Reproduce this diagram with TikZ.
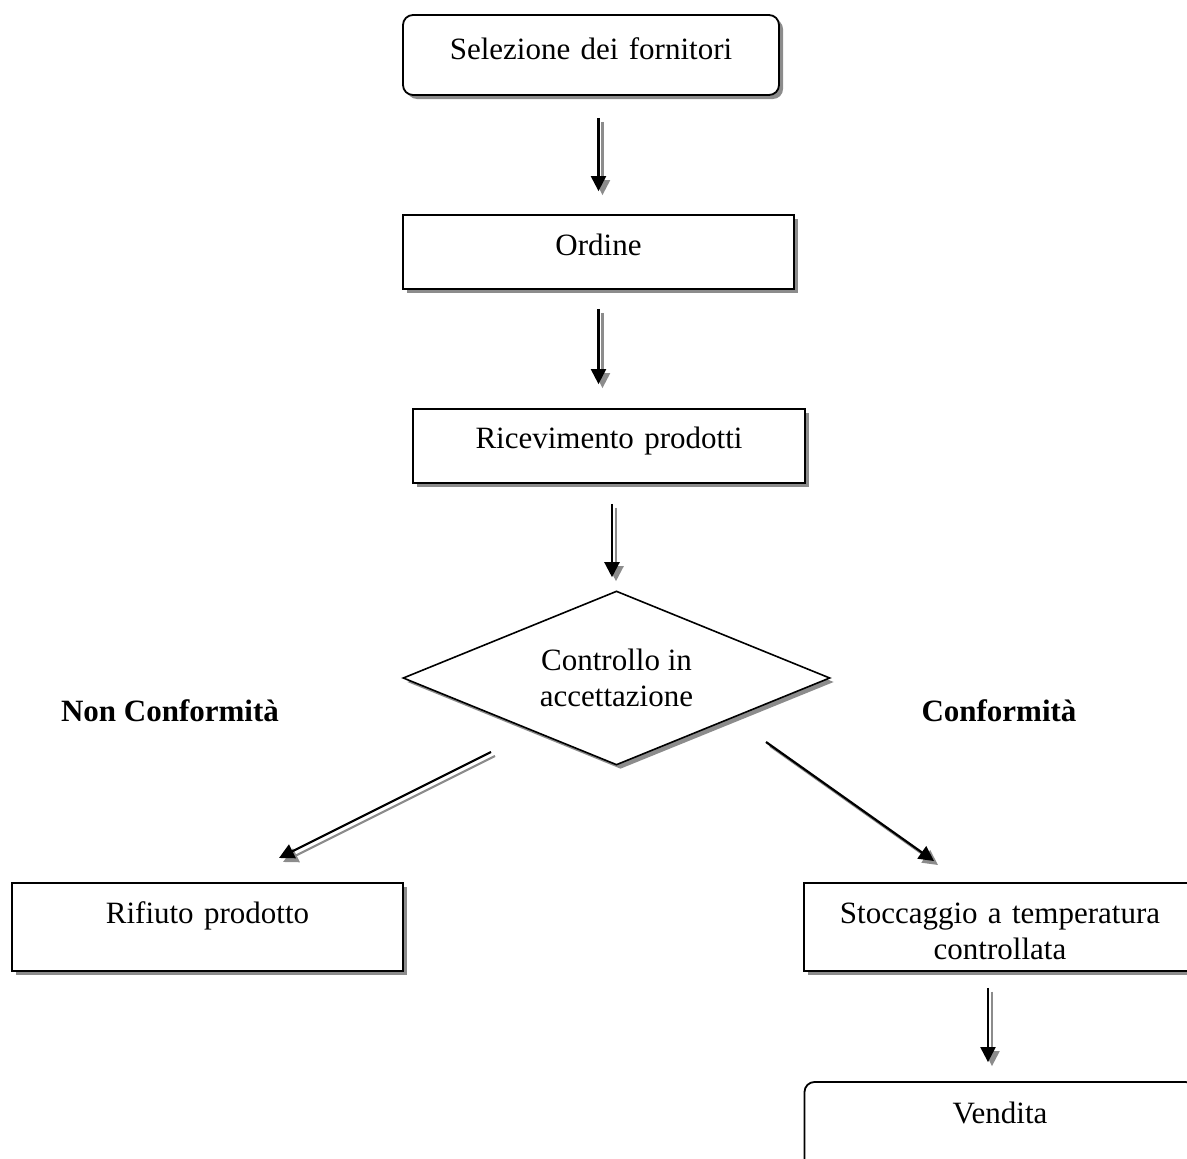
\documentclass[tikz,border=0pt]{standalone}
\usepackage{fontspec}
\setmainfont{Liberation Serif}
\usetikzlibrary{shapes.geometric,shadows,arrows.meta}
\begin{document}
\begin{tikzpicture}[x=1pt,y=-1pt,
  every node/.style={font=\fontsize{31}{36}\selectfont},
  boxsh/.style={drop shadow={shadow xshift=4pt,shadow yshift=-4pt,fill=black!45,opacity=1}},
  procbox/.style={draw=black, line width=1.8pt, fill=white, inner sep=0pt, align=center, boxsh},
  roundbox/.style={procbox, rounded corners=10pt},
  decision/.style={diamond, draw=black, line width=1.6pt, fill=white, inner sep=0pt, align=center,
    minimum width=427pt, minimum height=174pt, aspect=2.45, boxsh},
  flowarrow/.style={line width=2.2pt, draw=black, -{Triangle[length=15pt,width=15pt]}},
  arrsh/.style={flowarrow, draw=black!45, fill=black!45, transform canvas={xshift=4pt,yshift=-4pt}},
  lbl/.style={font=\fontsize{31}{36}\selectfont\bfseries}
]
\useasboundingbox (0,0) rectangle (1187,1159);
\clip (0,0) rectangle (1187,1159);

% boxes
\node[roundbox, text width=376pt, text height=44pt, text depth=36pt] (sel) at (591,55) {Selezione dei fornitori};
\node[procbox, text width=391pt, text height=40pt, text depth=34pt] (ord) at (598.5,252) {Ordine};
\node[procbox, text width=392pt, text height=39pt, text depth=35pt] (ric) at (609,446) {Ricevimento prodotti};
\node[decision] (dia) at (616.5,678) {Controllo in\\accettazione};
\node[procbox, text width=391pt, text height=40pt, text depth=48pt] (rif) at (207.5,927) {Rifiuto prodotto};
\node[procbox, text width=392pt, text height=40pt, text depth=48pt] (sto) at (1000,927) {Stoccaggio a temperatura\\controllata};
\node[roundbox, text width=391pt, text height=41pt, text depth=47pt] (ven) at (1000,1126) {Vendita};

% labels
\node[lbl, anchor=base] (nc) at (170,721) {Non Conformità};
\node[lbl, anchor=base] (co) at (999,721) {Conformità};

% free ends of the diagonal connectors
\coordinate (l1) at (491,752);
\coordinate (l2) at (279,858);
\coordinate (r1) at (766,742);
\coordinate (r2) at (934,861);

% shadows of connectors
\draw[arrsh, shorten <=22pt, shorten >=23pt] (sel.south -| ord.north) -- (ord.north);
\draw[arrsh, shorten <=19pt, shorten >=24pt] (ord.south) -- (ord.south |- ric.north);
\draw[arrsh, shorten <=20pt, shorten >=13pt] ([xshift=3pt]ric.south) -- ([xshift=3pt]ric.south |- dia.north);
\draw[arrsh, shorten <=16pt, shorten >=19pt] ([xshift=-12pt]sto.south) -- ([xshift=-12pt]ven.north);
\draw[arrsh] (l1) -- (l2);
\draw[arrsh] (r1) -- (r2);

% connectors
\draw[flowarrow, shorten <=22pt, shorten >=23pt] (sel.south -| ord.north) -- (ord.north);
\draw[flowarrow, shorten <=19pt, shorten >=24pt] (ord.south) -- (ord.south |- ric.north);
\draw[flowarrow, shorten <=20pt, shorten >=13pt] ([xshift=3pt]ric.south) -- ([xshift=3pt]ric.south |- dia.north);
\draw[flowarrow, shorten <=16pt, shorten >=19pt] ([xshift=-12pt]sto.south) -- ([xshift=-12pt]ven.north);
\draw[flowarrow] (l1) -- (l2);
\draw[flowarrow] (r1) -- (r2);
\end{tikzpicture}
\end{document}
